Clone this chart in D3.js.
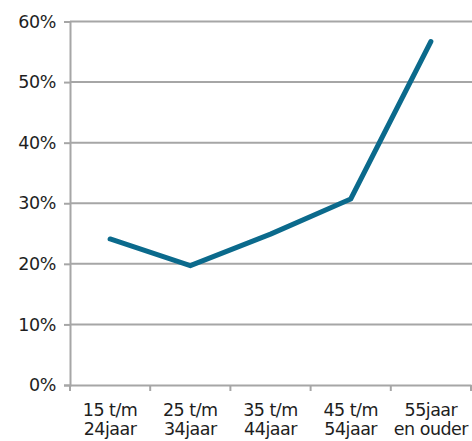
<!DOCTYPE html>
<html><head><meta charset="utf-8">
<script src="https://cdn.jsdelivr.net/npm/d3@7"></script>
<style>
html,body{margin:0;padding:0;background:#fff;}
text{font-family:"DejaVu Sans",sans-serif;fill:#1e1e1e;}
</style></head>
<body>
<svg id="c" width="472" height="441"></svg>
<script>
const categories = [["15 t/m","24jaar"],["25 t/m","34jaar"],["35 t/m","44jaar"],["45 t/m","54jaar"],["55jaar","en ouder"]];
const values = [0.241, 0.197, 0.249, 0.307, 0.567];
const yTicks = [0, 0.1, 0.2, 0.3, 0.4, 0.5, 0.6];

(function(){
const svg = d3.select("#c");
const mL = 70, mR = 471, mT = 21.5, mB = 385;
const x = d3.scaleBand().domain(d3.range(categories.length)).range([mL, mR]);
const y = d3.scaleLinear().domain([0, 0.6]).range([mB, mT]);

// gridlines
svg.append("g").selectAll("line").data(yTicks.filter(d => d > 0)).join("line")
  .attr("x1", mL).attr("x2", 472)
  .attr("y1", d => y(d)).attr("y2", d => y(d))
  .attr("stroke", "#a6a6a6").attr("stroke-width", 2);

// y axis
const ya = svg.append("g").attr("transform", `translate(${mL},0)`)
  .call(d3.axisLeft(y).tickValues(yTicks).tickFormat(d3.format(".0%")).tickSize(6).tickPadding(8));
ya.select(".domain").attr("stroke", "#a6a6a6").attr("stroke-width", 2);
ya.selectAll(".tick line").attr("stroke", "#a6a6a6").attr("stroke-width", 2);
ya.selectAll("text").attr("font-size", 17.5).attr("fill", "#1e1e1e").attr("font-family", null)
  .attr("letter-spacing", -0.4);

// x axis
const xa = svg.append("g").attr("transform", `translate(0,${mB})`)
  .call(d3.axisBottom(x).tickSize(0).tickFormat(""));
xa.select(".domain").attr("stroke", "#a6a6a6").attr("stroke-width", 2);
const boundaries = d3.range(categories.length + 1).map(i => mL + i * x.bandwidth());
xa.selectAll(".bt").data(boundaries).join("line").attr("class","bt")
  .attr("x1", d => d).attr("x2", d => d).attr("y1", 0).attr("y2", 6)
  .attr("stroke", "#a6a6a6").attr("stroke-width", 2);

const lbl = svg.append("g").selectAll("text").data(categories).join("text")
  .attr("text-anchor", "middle").attr("font-size", 17.5).attr("letter-spacing", -0.5);
lbl.append("tspan").attr("x", (d, i) => x(i) + x.bandwidth() / 2).attr("y", 416).text(d => d[0]);
lbl.append("tspan").attr("x", (d, i) => x(i) + x.bandwidth() / 2).attr("y", 435).text(d => d[1]);

// line
const line = d3.line().x((d, i) => x(i) + x.bandwidth() / 2).y(d => y(d));
svg.append("path").datum(values).attr("d", line)
  .attr("fill", "none").attr("stroke", "#0b6a8c").attr("stroke-width", 5)
  .attr("stroke-linejoin", "round").attr("stroke-linecap", "round");
})();
</script>
</body></html>
